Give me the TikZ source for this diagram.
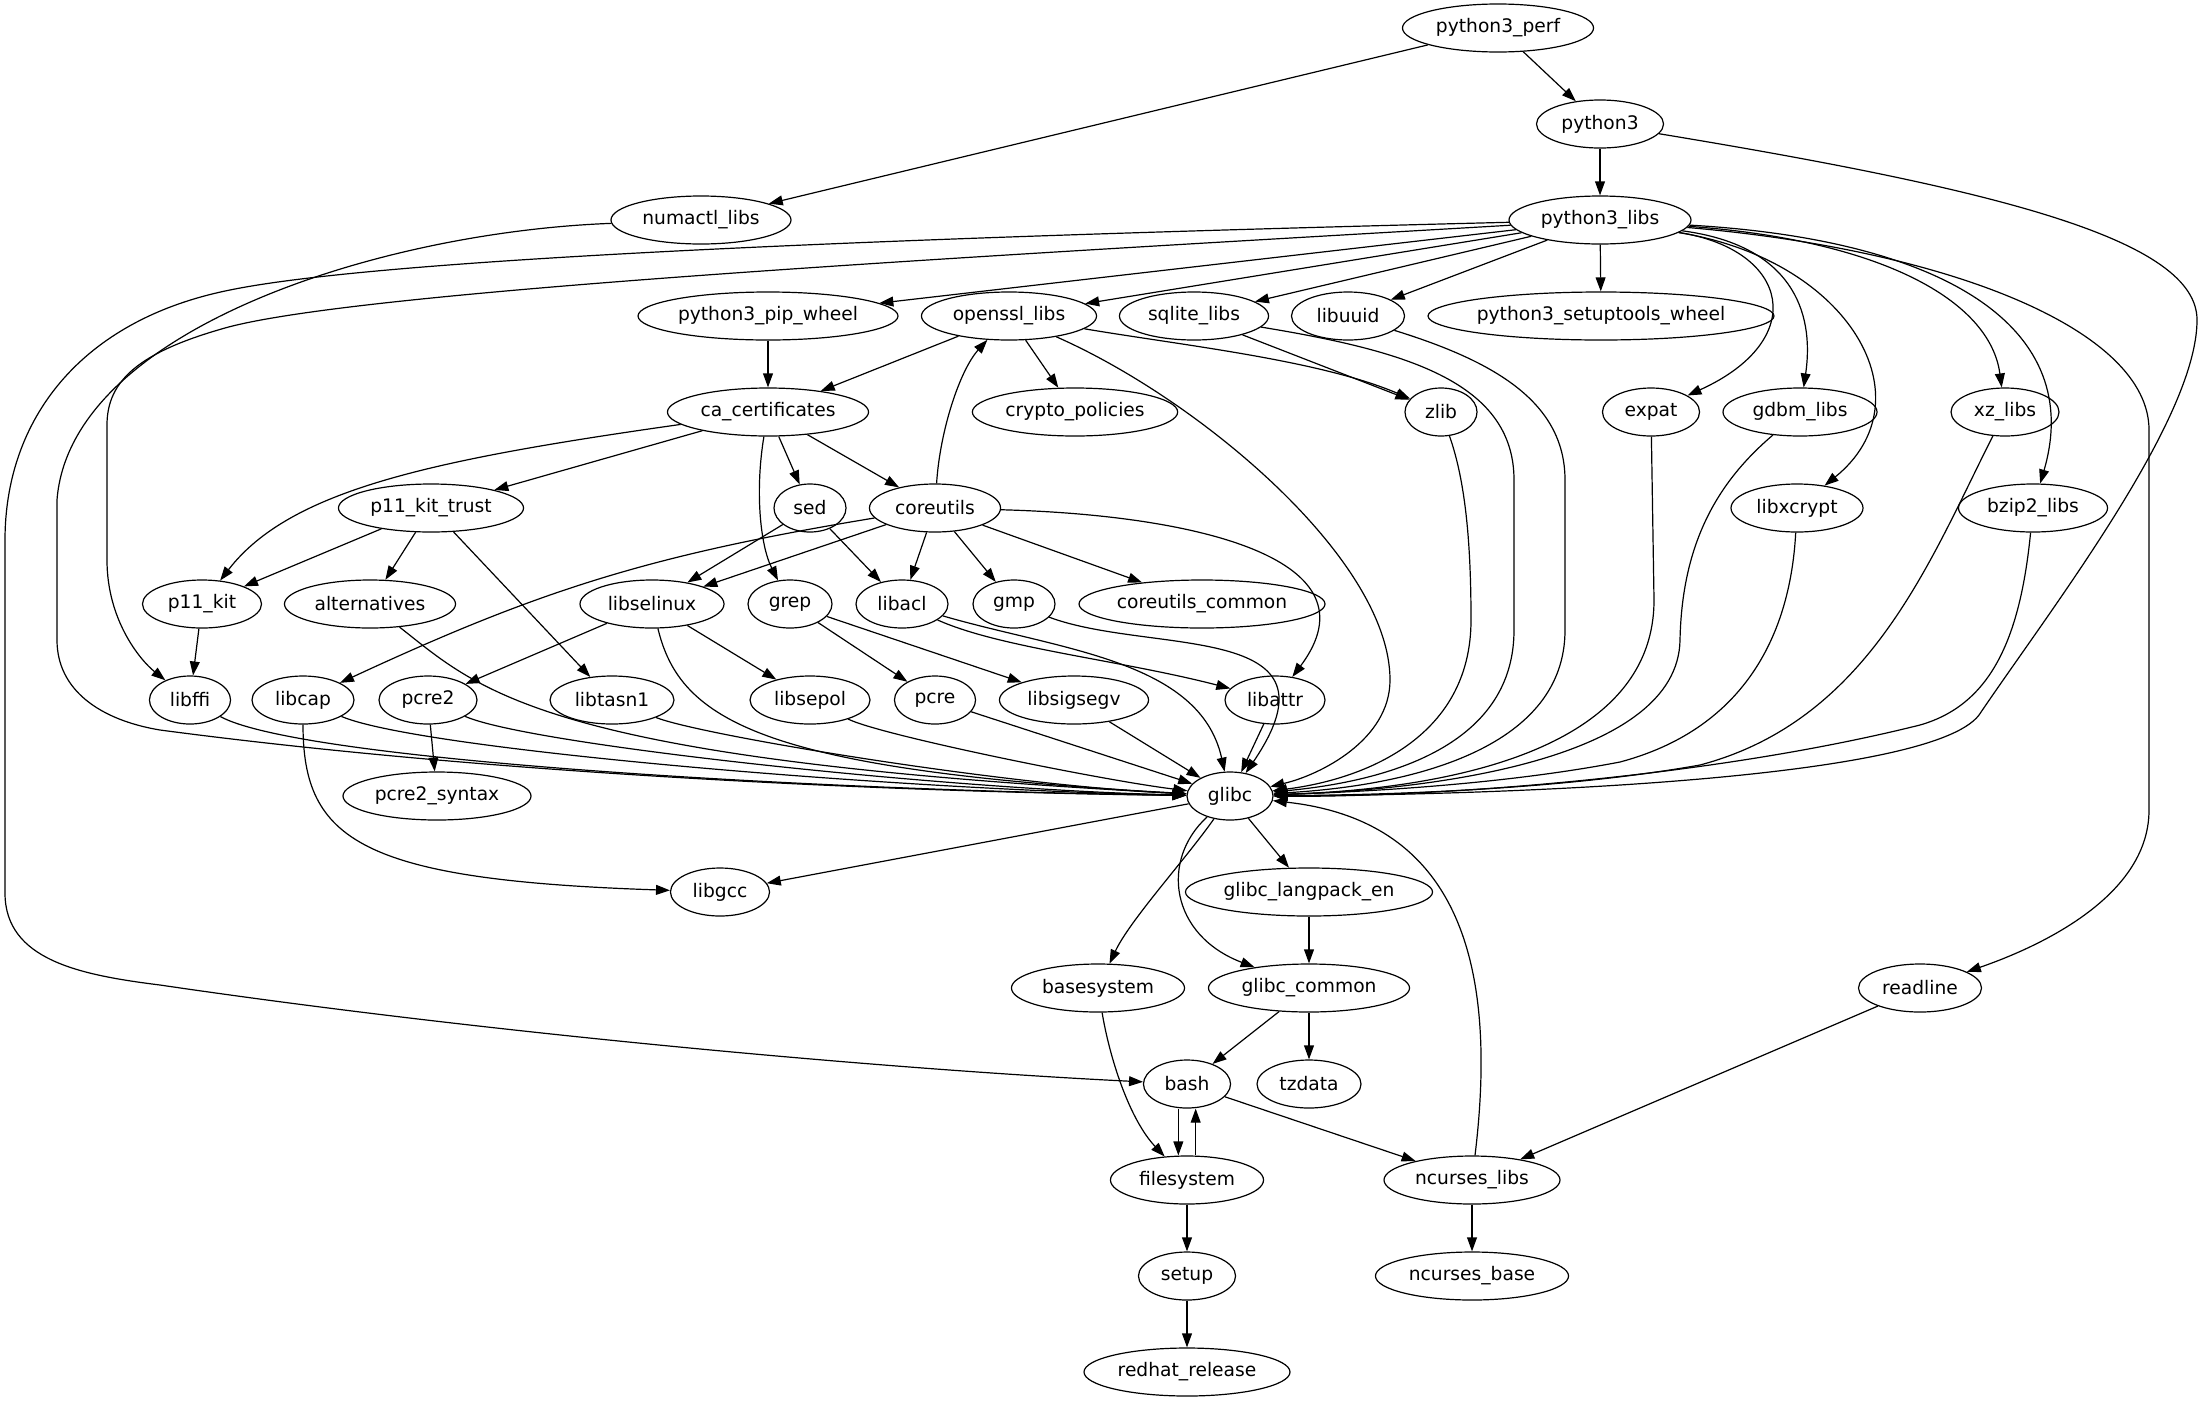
\documentclass[tikz,border=0pt]{standalone}
\usepackage{fontspec}
\setmainfont{DejaVu Sans}
\usetikzlibrary{shapes.geometric,arrows.meta}
\newcommand\pkgnode[4]{\node[pkg,minimum width=#4pt] (#1) at (#2) {\makebox[0pt]{#3}};}
\begin{document}
\begin{tikzpicture}[x=0.75pt,y=-0.75pt,
  pkg/.style={draw, ellipse, line width=0.9pt, minimum height=36pt, inner sep=0pt, font=\fontsize{14pt}{17pt}\selectfont},
  dep/.style={-{Triangle[length=10.5pt,width=7.4pt]}, line width=0.9pt}]
\fill[white] (0,0) rectangle (2204,1403);
% row 1-3
\pkgnode{perf}{1498,28}{python3\_perf}{143.3}
\pkgnode{py3}{1600,124}{python3}{95.3}
\pkgnode{numactl}{701,220}{numactl\_libs}{135}
\pkgnode{py3libs}{1600,220}{python3\_libs}{136.5}
% row 4
\pkgnode{pipwheel}{768,316}{python3\_pip\_wheel}{195}
\pkgnode{openssl}{1009,316}{openssl\_libs}{131.3}
\pkgnode{sqlite}{1194,316}{sqlite\_libs}{111.8}
\pkgnode{libuuid}{1348,316}{libuuid}{84.8}
\pkgnode{setuptools}{1601,316}{python3\_setuptools\_wheel}{259.5}
% row 5
\pkgnode{cacert}{768,412}{ca\_certificates}{150.8}
\pkgnode{crypto}{1075,412}{crypto\_policies}{154}
\pkgnode{zlib}{1441,412}{zlib}{54}
\pkgnode{expat}{1651,412}{expat}{72.8}
\pkgnode{gdbm}{1800,412}{gdbm\_libs}{115.5}
\pkgnode{xz}{2005,412}{xz\_libs}{81}
% row 6
\pkgnode{p11trust}{431,508}{p11\_kit\_trust}{138.8}
\pkgnode{sed}{810,508}{sed}{54}
\pkgnode{coreutils}{935,508}{coreutils}{98.3}
\pkgnode{libxcrypt}{1797,508}{libxcrypt}{99}
\pkgnode{bzip2}{2033,508}{bzip2\_libs}{111.8}
% row 7
\pkgnode{p11kit}{202,604}{p11\_kit}{89.3}
\pkgnode{alternatives}{370,604}{alternatives}{128.3}
\pkgnode{libselinux}{652,604}{libselinux}{108}
\pkgnode{grep}{790,604}{grep}{63}
\pkgnode{libacl}{902,604}{libacl}{69}
\pkgnode{gmp}{1014,604}{gmp}{61.5}
\pkgnode{cucommon}{1202,604}{coreutils\_common}{184.5}
% row 8
\pkgnode{libffi}{190,700}{libffi}{60.8}
\pkgnode{libcap}{303,700}{libcap}{76.5}
\pkgnode{pcre2}{428,700}{pcre2}{73.5}
\pkgnode{libtasn1}{612,700}{libtasn1}{93}
\pkgnode{libsepol}{810,700}{libsepol}{90}
\pkgnode{pcre}{935,700}{pcre}{60.8}
\pkgnode{libsigsegv}{1074,700}{libsigsegv}{111.8}
\pkgnode{libattr}{1275,700}{libattr}{75}
% row 9
\pkgnode{pcre2syntax}{437,796}{pcre2\_syntax}{141}
\pkgnode{glibc}{1230,796}{glibc}{64.5}
% row 10
\pkgnode{libgcc}{720,892}{libgcc}{74.3}
\pkgnode{langpack}{1309,892}{glibc\_langpack\_en}{185.3}
% row 11
\pkgnode{basesystem}{1098,988}{basesystem}{129.8}
\pkgnode{gcommon}{1309,988}{glibc\_common}{150.8}
\pkgnode{readline}{1920,988}{readline}{92.3}
% row 12
\pkgnode{bash}{1187,1084}{bash}{65.3}
\pkgnode{tzdata}{1309,1084}{tzdata}{78}
% row 13
\pkgnode{filesystem}{1187,1180}{filesystem}{114.8}
\pkgnode{ncurseslibs}{1472,1180}{ncurses\_libs}{132}
% row 14-15
\pkgnode{setup}{1187,1276}{setup}{72.8}
\pkgnode{ncursesbase}{1472,1276}{ncurses\_base}{144.8}
\pkgnode{redhat}{1187,1372}{redhat\_release}{154.5}

% ---- edges ----
\draw[dep] (perf) -- (numactl);
\draw[dep] (perf) -- (py3);
\draw[dep] (py3) -- (py3libs);
\draw[dep] (py3) .. controls (2000,190) and (2197,240) .. (2197,320) .. controls (2197,420) and (2050,610) .. (1979,715) .. controls (1930,780) and (1500,795) .. (glibc);
\draw[dep] (numactl) .. controls (380,232) and (70,330) .. (57,500) -- (57,640) .. controls (57,690) and (100,720) .. (160,730) .. controls (500,775) and (900,792) .. (glibc);

\draw[dep] (py3libs) -- (pipwheel);
\draw[dep] (py3libs) -- (openssl);
\draw[dep] (py3libs) -- (sqlite);
\draw[dep] (py3libs) -- (libuuid);
\draw[dep] (py3libs) -- (setuptools);
\draw[dep] (py3libs) .. controls (1790,250) and (1810,340) .. (expat);
\draw[dep] (py3libs) .. controls (1790,245) and (1815,310) .. (gdbm);
\draw[dep] (py3libs) .. controls (1850,260) and (1930,400) .. (libxcrypt);
\draw[dep] (py3libs) .. controls (1880,240) and (1990,300) .. (xz);
\draw[dep] (py3libs) .. controls (1950,240) and (2085,330) .. (bzip2);
\draw[dep] (py3libs) .. controls (1950,250) and (2149,330) .. (2149,430) -- (2149,810) .. controls (2149,900) and (2030,950) .. (readline);
\draw[dep] (py3libs) .. controls (1000,255) and (360,290) .. (225,328) .. controls (140,352) and (107,380) .. (107,425) -- (107,560) .. controls (107,620) and (140,660) .. (libffi);
\draw[dep] (py3libs) .. controls (1000,235) and (400,255) .. (230,290) .. controls (80,320) and (5,420) .. (5,540) -- (5,893) .. controls (5,960) and (80,975) .. (160,985) .. controls (500,1035) and (900,1070) .. (bash);

\draw[dep] (pipwheel) -- (cacert);
\draw[dep] (openssl) -- (cacert);
\draw[dep] (openssl) -- (crypto);
\draw[dep] (openssl) .. controls (1180,345) and (1320,360) .. (zlib);
\draw[dep] (openssl) .. controls (1200,400) and (1390,560) .. (1390,680) .. controls (1390,740) and (1320,775) .. (glibc);
\draw[dep] (sqlite) -- (zlib);
\draw[dep] (sqlite) .. controls (1400,350) and (1514,380) .. (1514,480) -- (1514,630) .. controls (1514,740) and (1400,780) .. (glibc);
\draw[dep] (libuuid) .. controls (1490,360) and (1565,400) .. (1565,480) -- (1565,630) .. controls (1565,745) and (1420,785) .. (glibc);
\draw[dep] (zlib) .. controls (1465,480) and (1471,540) .. (1471,620) .. controls (1471,740) and (1360,780) .. (glibc);
\draw[dep] (expat) -- (1654,600) .. controls (1654,760) and (1420,790) .. (glibc);
\draw[dep] (gdbm) .. controls (1720,480) and (1682,540) .. (1680,640) .. controls (1678,760) and (1430,790) .. (glibc);
\draw[dep] (libxcrypt) .. controls (1790,640) and (1740,730) .. (1620,762) .. controls (1500,785) and (1360,792) .. (glibc);
\draw[dep] (xz) .. controls (1930,560) and (1870,720) .. (1700,765) .. controls (1560,790) and (1380,795) .. (glibc);
\draw[dep] (bzip2) .. controls (2020,640) and (1990,705) .. (1920,725) .. controls (1700,780) and (1420,797) .. (glibc);

\draw[dep] (cacert) .. controls (430,460) and (290,490) .. (p11kit);
\draw[dep] (cacert) -- (p11trust);
\draw[dep] (cacert) -- (sed);
\draw[dep] (cacert) -- (coreutils);
\draw[dep] (cacert) .. controls (755,490) and (760,545) .. (grep);

\draw[dep] (p11trust) -- (p11kit);
\draw[dep] (p11trust) -- (alternatives);
\draw[dep] (p11trust) -- (libtasn1);
\draw[dep] (sed) -- (libselinux);
\draw[dep] (sed) -- (libacl);

\draw[dep] (coreutils) .. controls (940,430) and (960,370) .. (openssl);
\draw[dep] (coreutils) -- (libselinux);
\draw[dep] (coreutils) .. controls (650,555) and (540,590) .. (libcap);
\draw[dep] (coreutils) -- (libacl);
\draw[dep] (coreutils) -- (gmp);
\draw[dep] (coreutils) -- (cucommon);
\draw[dep] (coreutils) .. controls (1200,515) and (1380,560) .. (libattr);

\draw[dep] (p11kit) -- (libffi);
\draw[dep] (alternatives) .. controls (480,690) and (540,760) .. (glibc);
\draw[dep] (libselinux) -- (pcre2);
\draw[dep] (libselinux) -- (libsepol);
\draw[dep] (libselinux) .. controls (680,720) and (760,770) .. (glibc);
\draw[dep] (grep) -- (pcre);
\draw[dep] (grep) -- (libsigsegv);
\draw[dep] (libacl) .. controls (1000,648) and (1120,660) .. (libattr);
\draw[dep] (libacl) .. controls (1060,650) and (1200,660) .. (glibc);
\draw[dep] (gmp) .. controls (1150,655) and (1350,620) .. (glibc);

\draw[dep] (libffi) .. controls (300,760) and (800,790) .. (glibc);
\draw[dep] (libcap) .. controls (420,750) and (900,790) .. (glibc);
\draw[dep] (libcap) .. controls (303,840) and (360,880) .. (libgcc);
\draw[dep] (pcre2) -- (pcre2syntax);
\draw[dep] (pcre2) .. controls (530,745) and (950,790) .. (glibc);
\draw[dep] (libtasn1) .. controls (700,735) and (1000,785) .. (glibc);
\draw[dep] (libsepol) .. controls (880,735) and (1100,780) .. (glibc);
\draw[dep] (pcre) -- (glibc);
\draw[dep] (libsigsegv) -- (glibc);
\draw[dep] (libattr) -- (glibc);

\draw[dep] (glibc) -- (libgcc);
\draw[dep] (glibc) -- (langpack);
\draw[dep] (glibc) .. controls (1185,860) and (1130,920) .. (basesystem);
\draw[dep] (glibc) .. controls (1160,860) and (1170,935) .. (gcommon);
\draw[dep] (langpack) -- (gcommon);
\draw[dep] (gcommon) -- (bash);
\draw[dep] (gcommon) -- (tzdata);
\draw[dep] (basesystem) .. controls (1110,1060) and (1130,1120) .. (filesystem);
\draw[dep] ([xshift=-6.5pt]bash.south) -- ([xshift=-6.5pt]filesystem.north);
\draw[dep] ([xshift=6.5pt]filesystem.north) -- ([xshift=6.5pt]bash.south);
\draw[dep] (bash) -- (ncurseslibs);
\draw[dep] (ncurseslibs) .. controls (1500,950) and (1450,820) .. (glibc);
\draw[dep] (ncurseslibs) -- (ncursesbase);
\draw[dep] (readline) -- (ncurseslibs);
\draw[dep] (filesystem) -- (setup);
\draw[dep] (setup) -- (redhat);
\end{tikzpicture}
\end{document}
